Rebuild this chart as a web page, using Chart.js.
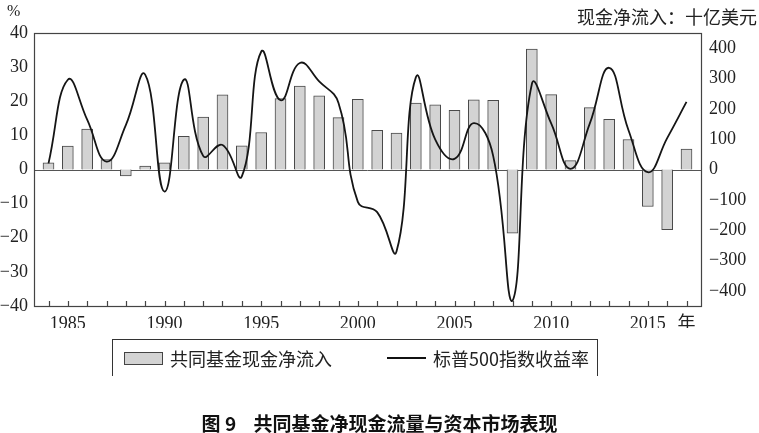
<!DOCTYPE html>
<html>
<head>
<meta charset="utf-8">
<script src="https://cdn.jsdelivr.net/npm/chart.js@4"></script>
<style>
  body { margin: 0; background: #fff; }
  #wrap { position: relative; width: 759px; height: 433px; }
  .lbl { position: absolute; color: #222; white-space: nowrap; }
  #pct { left: 7px; top: 2px; font: 16px "Liberation Serif", serif; }
  #unit { right: 2px; top: 3px; font: 18px "Noto Sans CJK SC", sans-serif; }
  #legend { position: absolute; left: 112px; top: 339px; width: 484px; height: 36px;
            border: 1px solid #333; border-bottom: none; }
  .sw-bar { position: absolute; left: 11px; top: 12px; width: 37px; height: 11px;
            background: #d3d3d3; border: 1px solid #444; }
  .sw-line { position: absolute; left: 274px; top: 17px; width: 39px; height: 2px; background: #111; }
  .ltxt { position: absolute; top: 5px; font: 18px "Noto Sans CJK SC", sans-serif; color: #222; }
  #title { left: 0; width: 759px; top: 409px; text-align: center;
           font: bold 19px "Noto Sans CJK SC", sans-serif; color: #111; }
</style>
</head>
<body>
<div id="wrap">
  <canvas id="c" width="759" height="433"></canvas>
  <div class="lbl" id="pct">%</div>
  <div class="lbl" id="unit">现金净流入：十亿美元</div>
  <div id="legend">
    <div class="sw-bar"></div><div class="ltxt" style="left:57px">共同基金现金净流入</div>
    <div class="sw-line"></div><div class="ltxt" style="left:320px">标普500指数收益率</div>
  </div>
  <div class="lbl" id="title">图 9&nbsp;&nbsp;&nbsp;&nbsp;共同基金净现金流量与资本市场表现</div>
</div>
<script>
// years 1984..2017
const years = [1984, 1985, 1986, 1987, 1988, 1989, 1990, 1991, 1992, 1993,
  1994, 1995, 1996, 1997, 1998, 1999, 2000, 2001, 2002, 2003,
  2004, 2005, 2006, 2007, 2008, 2009, 2010, 2011, 2012, 2013,
  2014, 2015, 2016, 2017];

// mutual fund net cash inflow, billion USD (right axis)
const fundInflow = [22, 77, 133, 33, -21, 11, 22, 109, 173, 246,
  78, 122, 234, 275, 243, 171, 231, 129, 120, 219,
  213, 195, 230, 228, -210, 397, 247, 29, 204, 165,
  99, -122, -198, 67];

// S&P 500 annual return, % (left axis)
const spReturn = [1.8, 26.3, 14.6, 2.3, 13, 27.8, -6.5, 26.3, 4, 7.2,
  -2, 34.5, 20.3, 31.2, 25.8, 19.5, -9.5, -12.5, -24, 27,
  8.8, 3.1, 13.6, 4, -38.5, 25, 13.5, 0.2, 13.5, 29.8,
  11.5, -0.8, 9.2, 19.8];

// tick labels
const xTickLabels = { 1985: '1985', 1990: '1990', 1995: '1995', 2000: '2000',
  2005: '2005', 2010: '2010', 2015: '2015', 2017: '年' };
const leftTicks = [-40, -30, -20, -10, 0, 10, 20, 30, 40];
const rightTicks = [-400, -300, -200, -100, 0, 100, 200, 300, 400];

const tickFont = { family: '"Liberation Serif", "Noto Sans CJK SC", serif', size: 18 };
const fmt = v => (v < 0 ? '\u2212' + Math.abs(v) : '' + v);

// frame, zero line, small upward year ticks
const framePlugin = {
  id: 'frame',
  beforeDatasetsDraw(chart) {
    const { ctx, chartArea: a, scales } = chart;
    ctx.save();
    ctx.strokeStyle = '#555';
    ctx.lineWidth = 1;
    const y0 = Math.round(scales.y.getPixelForValue(0)) + 0.5;
    ctx.beginPath();
    ctx.moveTo(a.left, y0);
    ctx.lineTo(a.right, y0);
    ctx.stroke();
    ctx.restore();
  },
  afterDraw(chart) {
    const { ctx, chartArea: a, scales } = chart;
    ctx.save();
    ctx.strokeStyle = '#444';
    ctx.lineWidth = 1.2;
    ctx.strokeRect(a.left + 0.5, a.top + 0.5, a.right - a.left, a.bottom - a.top);
    ctx.beginPath();
    years.forEach(yr => {
      const x = Math.round(scales.x.getPixelForValue(yr)) + 0.5;
      ctx.moveTo(x, a.bottom);
      ctx.lineTo(x, a.bottom - 5);
    });
    ctx.stroke();
    ctx.restore();
  }
};

new Chart(document.getElementById('c'), {
  data: {
    datasets: [
      {
        type: 'line',
        label: '标普500指数收益率',
        data: years.map((yr, i) => ({ x: yr, y: spReturn[i] })),
        yAxisID: 'y',
        borderColor: '#151515',
        borderWidth: 1.8,
        pointRadius: 0,
        tension: 0.45,
        order: 0
      },
      {
        type: 'bar',
        label: '共同基金现金净流入',
        data: years.map((yr, i) => ({ x: yr, y: fundInflow[i] })),
        yAxisID: 'y2',
        backgroundColor: '#d3d3d3',
        borderColor: '#4a4a4a',
        borderWidth: 1,
        barThickness: 11,
        order: 1
      }
    ]
  },
  options: {
    responsive: false,
    animation: false,
    layout: { padding: { top: 33, bottom: 105, left: 0, right: 0 } },
    plugins: { legend: { display: false }, tooltip: { enabled: false } },
    scales: {
      x: {
        type: 'linear',
        offset: false,
        min: 1983.25,
        max: 2017.75,
        afterBuildTicks: s => { s.ticks = years.map(v => ({ value: v })); },
        afterFit: s => { s.height = 22; },
        grid: { display: false, drawTicks: false, offset: false },
        border: { display: false },
        ticks: {
          autoSkip: false,
          maxRotation: 0,
          padding: 7,
          color: '#222',
          font: tickFont,
          callback: v => xTickLabels[v] || ''
        }
      },
      y: {
        position: 'left',
        min: -40,
        max: 40,
        afterBuildTicks: s => { s.ticks = leftTicks.map(v => ({ value: v })); },
        afterFit: s => { s.width = 34; },
        grid: { display: false, drawTicks: false },
        border: { display: false },
        ticks: { padding: 6, color: '#222', font: tickFont, callback: fmt }
      },
      y2: {
        position: 'right',
        min: -450,
        max: 450,
        afterBuildTicks: s => { s.ticks = rightTicks.map(v => ({ value: v })); },
        afterFit: s => { s.width = 58; },
        grid: { display: false, drawTicks: false },
        border: { display: false },
        ticks: { padding: 8, color: '#222', font: tickFont, callback: fmt }
      }
    }
  },
  plugins: [framePlugin]
});
</script>
</body>
</html>
